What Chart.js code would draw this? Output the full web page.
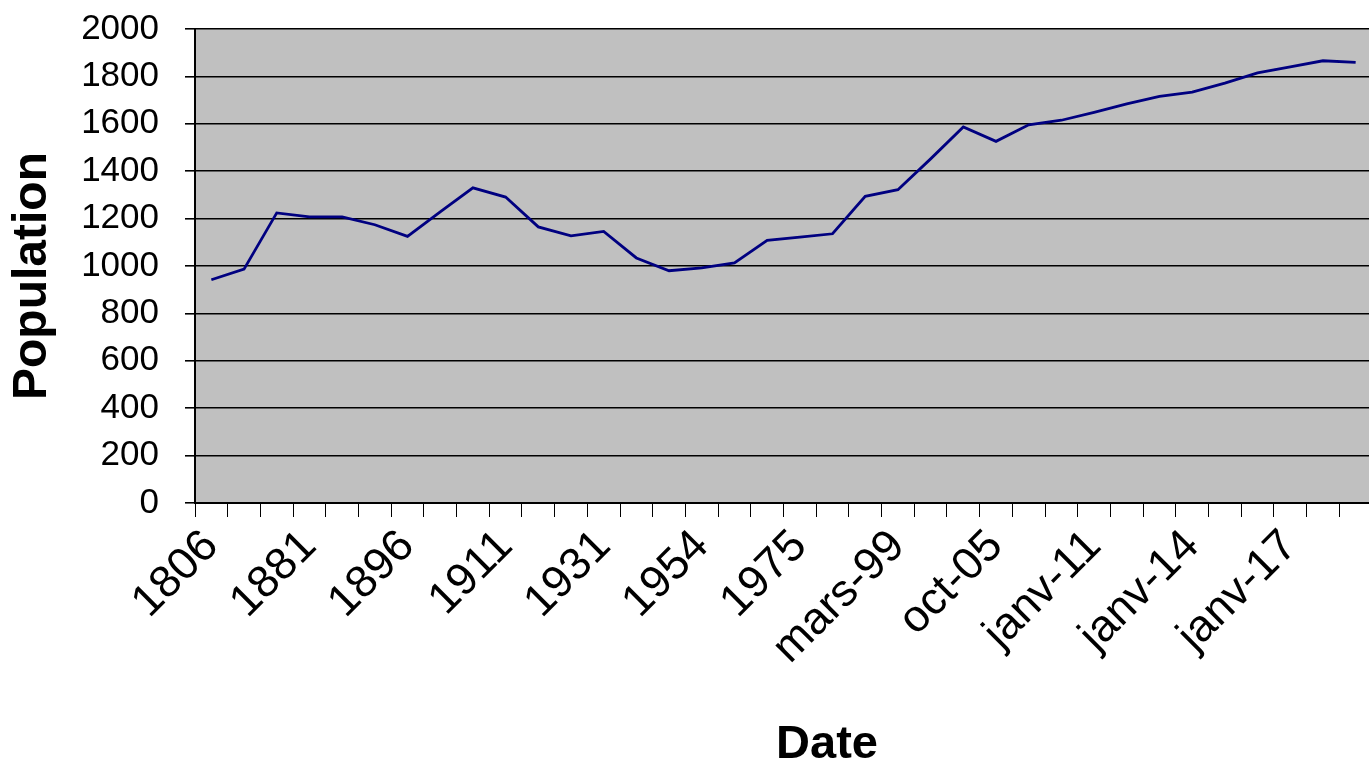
<!DOCTYPE html>
<html>
<head>
<meta charset="utf-8">
<script src="https://cdn.jsdelivr.net/npm/chart.js@4.4.0/dist/chart.umd.min.js"></script>
<style>
  html, body { margin: 0; padding: 0; background: #fff; overflow: hidden; }
  #wrap { width: 1369px; height: 761px; overflow: hidden; }
  #chart { display: block; }
</style>
</head>
<body>
<div id="wrap"><canvas id="chart" width="1372" height="775"></canvas></div>
<script>
// census dates (only every 3rd one is labelled on the axis)
const dates = ["1806", "1836", "1872", "1881", "1886", "1891", "1896", "1901", "1906", "1911",
    "1921", "1926", "1931", "1936", "1946", "1954", "1962", "1968", "1975", "1982",
    "1990", "mars-99", "janv-02", "janv-04", "oct-05", "janv-07", "janv-09", "janv-11", "janv-12", "janv-13",
    "janv-14", "janv-15", "janv-16", "janv-17", "janv-18", "janv-19"];
const population = [942, 987, 1224, 1207, 1207, 1174, 1125, 1228, 1330, 1291,
    1165, 1127, 1146, 1034, 980, 992, 1013, 1108, 1122, 1136,
    1294, 1322, 1452, 1587, 1526, 1596, 1615, 1648, 1684, 1716,
    1734, 1772, 1815, 1840, 1866, 1859];
const yMin = 0;
const yMax = 2000;
const yStep = 200;
const labelEvery = 3;
const xTitle = "Date";
const yTitle = "Population";

const font = '"Liberation Sans", Arial, sans-serif';

// grey plot area like the old Excel charts
const plotBg = {
    id: "plotBg",
    beforeDraw(chart) {
        const { ctx, chartArea: a } = chart;
        ctx.save();
        ctx.fillStyle = "#c0c0c0";
        ctx.fillRect(a.left, a.top, a.right - a.left, a.bottom - a.top);
        ctx.restore();
    }
};

// axis titles, placed where the original has them
const axisTitles = {
    id: "axisTitles",
    afterDraw(chart) {
        const ctx = chart.ctx;
        ctx.save();
        ctx.fillStyle = "#000";
        ctx.textAlign = "center";
        ctx.textBaseline = "middle";
        ctx.font = `bold 47px ${font}`;
        ctx.fillText(xTitle, 827, 745);
        ctx.translate(33, 276);
        ctx.rotate(-Math.PI / 2);
        ctx.font = `bold 48px ${font}`;
        ctx.fillText(yTitle, 0, 0);
        ctx.restore();
    }
};

const ctx = document.getElementById("chart").getContext("2d");
new Chart(ctx, {
    type: "line",
    data: {
        labels: dates,
        datasets: [{
            label: yTitle,
            data: population,
            borderColor: "#000080",
            borderWidth: 2.8,
            pointRadius: 0,
            tension: 0,
            fill: false
        }]
    },
    options: {
        responsive: false,
        animation: false,
        devicePixelRatio: 1,
        layout: { padding: { top: 29, left: 0, right: 0, bottom: 0 } },
        plugins: {
            legend: { display: false },
            tooltip: { enabled: false }
        },
        scales: {
            x: {
                offset: true,
                grid: {
                    offset: true,
                    drawOnChartArea: false,
                    color: "#000",
                    lineWidth: 1,
                    tickLength: 14
                },
                border: { color: "#000", width: 2 },
                ticks: {
                    autoSkip: false,
                    minRotation: 45,
                    maxRotation: 45,
                    padding: 3,
                    color: "#000",
                    font: { family: font, size: 45 },
                    callback: (v, i) => (i % labelEvery === 0 ? dates[i] : "")
                },
                afterFit: s => {
                    s.height = 272;
                    s.paddingLeft = 0;
                    s.paddingRight = 0;
                }
            },
            y: {
                min: yMin,
                max: yMax,
                grid: {
                    color: "#000",
                    lineWidth: 1.6,
                    tickLength: 10
                },
                border: { color: "#000", width: 2 },
                ticks: {
                    stepSize: yStep,
                    padding: 26,
                    color: "#000",
                    font: { family: font, size: 35 },
                    callback: v => String(v)
                },
                afterFit: s => {
                    s.width = 195;
                    s.paddingTop = 0;
                    s.paddingBottom = 0;
                }
            }
        }
    },
    plugins: [plotBg, axisTitles]
});
</script>
</body>
</html>
